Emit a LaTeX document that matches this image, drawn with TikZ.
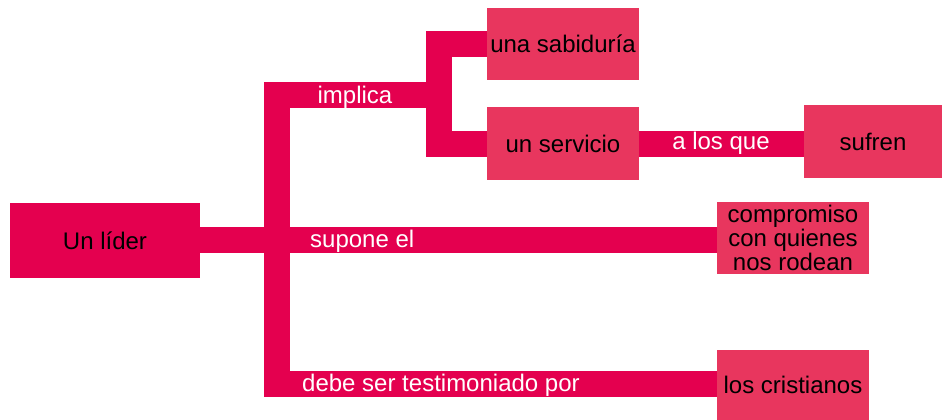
\documentclass[tikz,border=0pt]{standalone}
\usepackage{fontspec}
\setmainfont{Liberation Sans}
\usepackage{xcolor}
\usetikzlibrary{positioning, calc}
\definecolor{rootpink}{HTML}{E4004F}
\definecolor{boxpink}{HTML}{E8365E}
\begin{document}
\begin{tikzpicture}[x=1pt, y=-1pt,
		every node/.style={font=\fontsize{24}{24}\selectfont, inner sep=0pt, align=center}, % Common text styling
		rootbox/.style={fill=rootpink, text=black, minimum width=190pt, minimum height=75pt}, % Main box
		leafbox/.style={fill=boxpink, text=black, minimum width=152pt, minimum height=72pt}, % Other boxes
		conn/.style={draw=rootpink, line width=26pt, line join=miter}, % Thick connectors
		linklabel/.style={text=white} % Text on the connectors
		]
		\useasboundingbox (0,0) rectangle (942,420);
		% Root node
		\node[rootbox] (lider) at (105,240.5) {Un líder};
		% Boxes on the right
		\node[leafbox] (sabiduria) at (563,44) {una sabiduría};
		\node[leafbox, minimum height=73pt] (servicio) at (563,143.5) {un servicio};
		\node[leafbox, minimum width=138pt, minimum height=73pt] (sufren) at (873,141.5) {sufren};
		\node[leafbox] (compromiso) at (793,238) {compromiso\\con quienes\\nos rodean};
		\node[leafbox, minimum height=70pt] (cristianos) at (793,385) {los cristianos};
		% Bends of the connectors
		\coordinate (top) at (277,95);
		\coordinate (bot) at (277,383.5);
		\coordinate (split) at (439,95);
		\coordinate (mid) at (200,239.5);
		% Connectors
		\draw[conn] (mid) -- (mid -| compromiso.west);
		\draw[conn] (split) -- (top) -- (bot) -- (bot -| cristianos.west);
		\draw[conn] (sabiduria.west) -- (sabiduria.west -| split) -- (servicio.west -| split) -- (servicio.west);
		\draw[conn] (servicio.east) -- (servicio.east -| sufren.west);
		% Labels on the connectors
		\node[linklabel] (implica) at (355,97.5) {implica};
		\node[linklabel, anchor=west] (supone) at (310,241.5) {supone el};
		\node[linklabel] (alosque) at (721,143.5) {a los que};
		\node[linklabel, anchor=west] (debe) at (302,385) {debe ser testimoniado por};
	\end{tikzpicture}
\end{document}
